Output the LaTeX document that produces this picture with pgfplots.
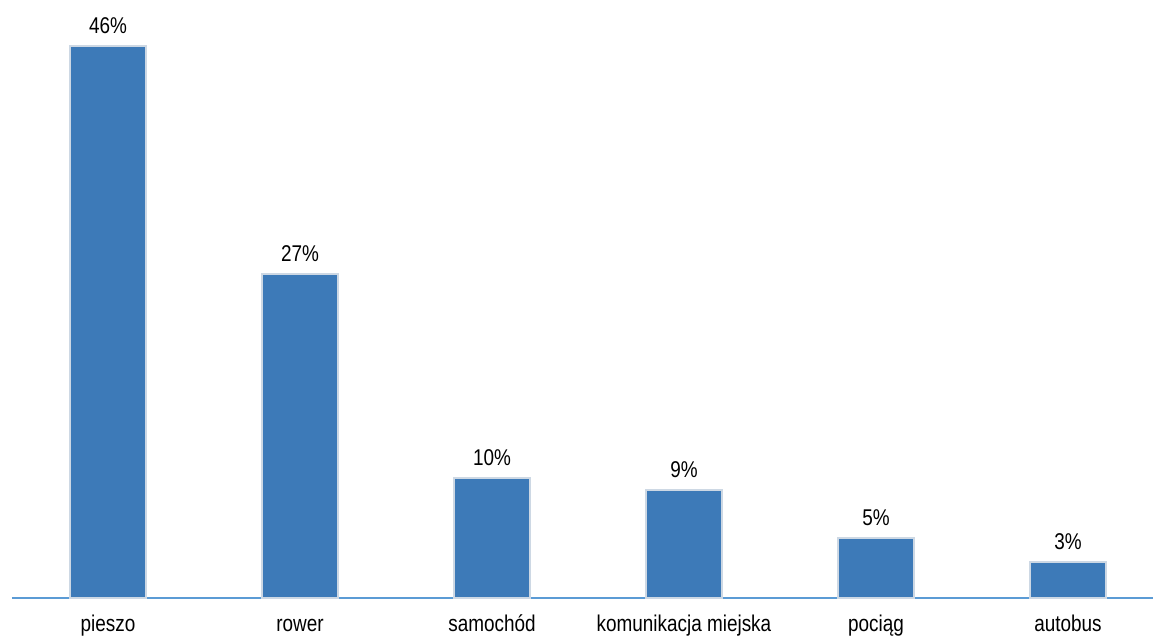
\documentclass[border=0pt]{standalone}
\usepackage{fontspec}
\setmainfont[FakeStretch=0.83]{Liberation Sans}
\usepackage{pgfplots}
\pgfplotsset{compat=1.18}
\definecolor{barblue}{RGB}{61,122,184}
\definecolor{baredge}{RGB}{205,216,228}
\definecolor{axisblue}{RGB}{91,155,213}
\begin{document}
\begin{tikzpicture}
\begin{axis}[
  scale only axis,
  width=576.5pt, height=318pt,
  xmin=-0.5625, xmax=5.443,
  ymin=-3.167, ymax=49.83,
  axis x line=middle,
  axis y line=none,
  x axis line style={-, draw=axisblue, line width=0.8pt, shorten <=6pt},
  xtick=data,
  xticklabels={pieszo,rower,samochód,komunikacja miejska,pociąg,autobus},
  major tick length=0pt,
  xticklabel style={font=\fontsize{11.4}{12}\selectfont, anchor=base, yshift=-17pt},
  ytick=\empty,
  clip=false,
  ybar,
  bar width=38pt,
  /pgf/number format/assume math mode=true,
  nodes near coords={\pgfmathprintnumber{\pgfplotspointmeta}\%},
  every node near coord/.append style={font=\fontsize{11.4}{12}\selectfont, text=black, anchor=base, yshift=6pt},
]
\addplot[fill=barblue, draw=baredge, line width=0.8pt] coordinates {(0,46) (1,27) (2,10) (3,9) (4,5) (5,3)};
\end{axis}
\pgfresetboundingbox
\path[use as bounding box] (current axis.south west) rectangle (current axis.north east);
\end{tikzpicture}
\end{document}
